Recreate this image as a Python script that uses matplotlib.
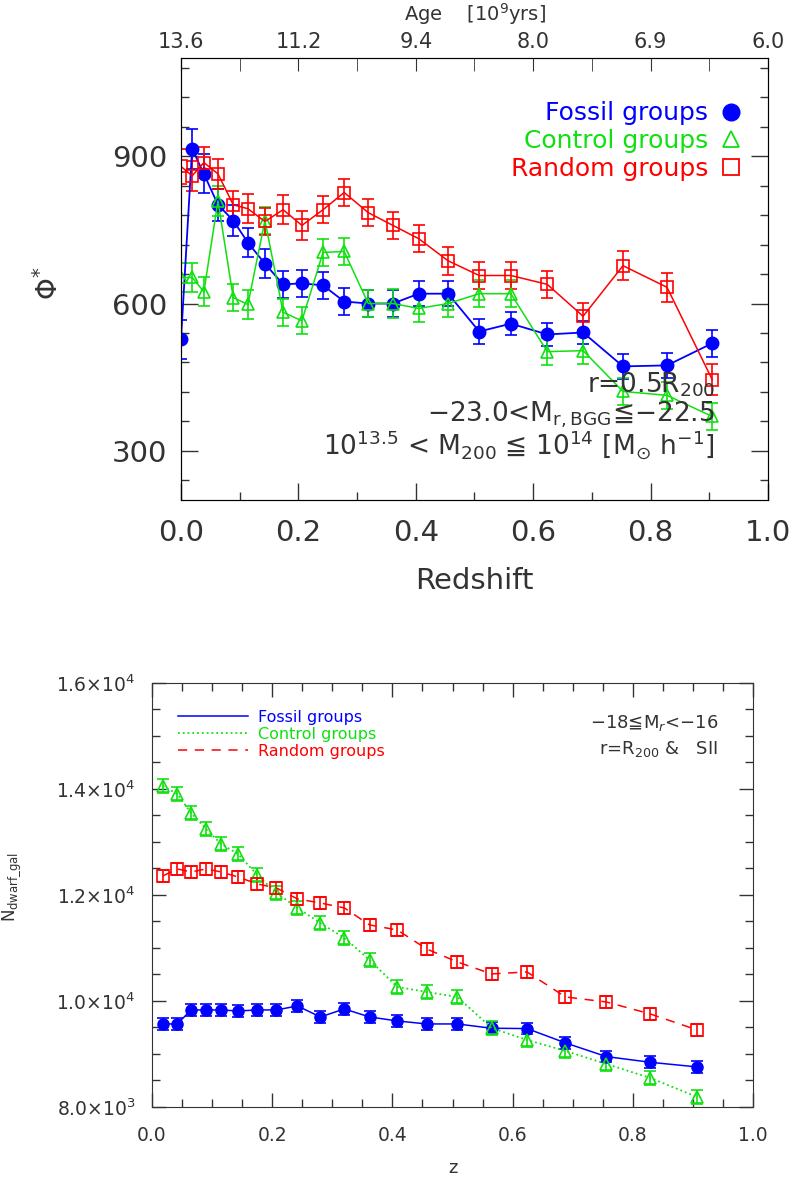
import matplotlib.pyplot as plt
from matplotlib.lines import Line2D
from matplotlib.ticker import MultipleLocator

BLUE = '#0000ff'
GREEN = '#10e010'
RED = '#ff0000'
INK = '#333333'

# ---- top panel: phi* vs redshift ----
z_top = [0.0, 0.019, 0.039, 0.063, 0.089, 0.114, 0.143, 0.174, 0.206, 0.242, 0.278,
         0.319, 0.361, 0.405, 0.455, 0.508, 0.562, 0.624, 0.685, 0.753, 0.828, 0.905]

phi_fossil = [527, 915, 864, 801, 769, 724, 681, 639, 641, 637, 604,
              600, 600, 620, 620, 543, 559, 537, 541, 472, 474, 519]
err_fossil = [40, 41, 40, 32, 32, 30, 29, 28, 28, 27, 28,
              28, 28, 26, 26, 25, 24, 24, 24, 25, 26, 27]

phi_control = [653, 653, 624, 809, 612, 598, 769, 582, 565, 704, 706,
               600, 600, 590, 600, 620, 620, 502, 504, 421, 413, 370]
err_control = [29, 29, 29, 31, 28, 29, 28, 28, 28, 27, 27,
               27, 29, 27, 28, 27, 27, 27, 27, 27, 27, 27]

phi_random = [879, 860, 887, 864, 801, 793, 767, 791, 759, 791, 826,
              785, 759, 732, 687, 657, 657, 639, 574, 677, 633, 445]
err_random = [35, 31, 32, 30, 29, 29, 28, 29, 29, 27, 28,
              28, 28, 28, 28, 28, 28, 28, 27, 29, 29, 31]

age_ticks = [0.0, 0.2, 0.4, 0.6, 0.8, 1.0]
age_labels = ['13.6', '11.2', '9.4', '8.0', '6.9', '6.0']

# ---- bottom panel: dwarf galaxy counts vs z ----
z_bot = [0.018, 0.042, 0.065, 0.09, 0.115, 0.143, 0.175, 0.207, 0.242, 0.28, 0.32,
         0.362, 0.408, 0.457, 0.508, 0.565, 0.624, 0.688, 0.756, 0.829, 0.907]

n_fossil = [9566, 9566, 9830, 9830, 9830, 9811, 9830, 9830, 9906, 9698, 9849,
            9698, 9623, 9566, 9566, 9485, 9479, 9208, 8950, 8843, 8755]
n_control = [14057, 13906, 13547, 13245, 12962, 12774, 12378, 12038, 11755, 11472, 11189,
             10774, 10264, 10170, 10075, 9490, 9264, 9057, 8811, 8547, 8189]
n_random = [12359, 12491, 12434, 12491, 12434, 12340, 12208, 12132, 11925, 11849, 11755,
            11434, 11340, 10981, 10736, 10510, 10547, 10075, 9981, 9755, 9453]
nerr_fossil = 110
nerr_control = 130
nerr_random = 110

plt.rcParams['font.family'] = ['DejaVu Sans']
plt.rcParams['mathtext.fontset'] = 'dejavusans'

fig = plt.figure(figsize=(7.98, 11.82), dpi=100)

# ================= top panel =================
ax = fig.add_axes([0.2268, 0.577, 0.7356, 0.374])

ax.errorbar(z_top, phi_fossil, yerr=err_fossil, color=BLUE, lw=1.3, marker='o', ms=9,
            mfc=BLUE, mec=BLUE, ecolor=BLUE, elinewidth=1.2, capsize=4.5, capthick=1.2)
ax.errorbar(z_top, phi_control, yerr=err_control, color=GREEN, lw=1.1, marker='^', ms=9,
            mfc='none', mec=GREEN, mew=1.2, ecolor=GREEN, elinewidth=1.2, capsize=4.5,
            capthick=1.2)
ax.errorbar(z_top, phi_random, yerr=err_random, color=RED, lw=1.1, marker='s', ms=8.5,
            mfc='none', mec=RED, mew=1.2, ecolor=RED, elinewidth=1.2, capsize=4.5,
            capthick=1.2)

ax.set_xlim(0, 1)
ax.set_ylim(200, 1100)
ax.set_yticks([300, 600, 900])
ax.yaxis.set_minor_locator(MultipleLocator(60))
ax.xaxis.set_major_locator(MultipleLocator(0.2))
ax.xaxis.set_minor_locator(MultipleLocator(0.1))
ax.tick_params(which='both', direction='in', right=True, top=False, colors=INK,
               labelsize=21, width=1)
ax.tick_params(which='major', length=12)
ax.tick_params(which='minor', length=6)
ax.tick_params(axis='y', pad=10)
ax.tick_params(axis='x', pad=14)
for s in ax.spines.values():
    s.set_color(INK)
ax.set_xlabel('Redshift', fontsize=21, color=INK, labelpad=14)
ax.set_ylabel(r'$\Phi^{*}$', fontsize=20, color=INK)
ax.yaxis.set_label_coords(-0.2, 0.49)

top = ax.twiny()
top.set_xlim(0, 1)
top.set_xticks(age_ticks)
top.set_xticklabels(age_labels)
top.xaxis.set_minor_locator(MultipleLocator(0.1))
top.tick_params(which='both', direction='in', colors=INK, labelsize=15, pad=4)
top.tick_params(which='major', length=9)
top.tick_params(which='minor', length=9)
top.set_xlabel(r'Age    [10$^9$yrs]', fontsize=14, color=INK)
top.xaxis.set_label_coords(0.5, 1.085)

handles = [Line2D([], [], ls='none', marker='o', ms=12, mfc=BLUE, mec=BLUE),
           Line2D([], [], ls='none', marker='^', ms=12, mfc='none', mec=GREEN, mew=1.3),
           Line2D([], [], ls='none', marker='s', ms=11, mfc='none', mec=RED, mew=1.3)]
leg = ax.legend(handles, ['Fossil groups', 'Control groups', 'Random groups'],
                loc='upper right', bbox_to_anchor=(0.975, 0.93), frameon=False,
                markerfirst=False, fontsize=18, handlelength=0.8, handletextpad=0.5,
                labelspacing=0.15, borderpad=0)
for t, c in zip(leg.get_texts(), [BLUE, GREEN, RED]):
    t.set_color(c)

ax.text(0.91, 0.26, r'r=0.5R$_{200}$', transform=ax.transAxes, ha='right', va='center',
        fontsize=19, color=INK)
ax.text(0.91, 0.192, r'$-$23.0<M$_{\rm r,BGG}$≦$-$22.5', transform=ax.transAxes, ha='right',
        va='center', fontsize=19, color=INK)
ax.text(0.91, 0.125, r'10$^{13.5}$ < M$_{200}$ ≦ 10$^{14}$ [M$_{\odot}$ h$^{-1}$]',
        transform=ax.transAxes, ha='right', va='center', fontsize=19, color=INK)

# ================= bottom panel =================
bx = fig.add_axes([0.1905, 0.0635, 0.7531, 0.3587])

bx.errorbar(z_bot, n_fossil, yerr=nerr_fossil, color=BLUE, ls='-', lw=1.1, marker='o', ms=8,
            mfc=BLUE, mec=BLUE, ecolor=BLUE, elinewidth=1.2, capsize=4, capthick=1.2)
bx.errorbar(z_bot, n_control, yerr=nerr_control, color=GREEN, ls=':', lw=1.3, marker='^', ms=9,
            mfc='none', mec=GREEN, mew=1.2, ecolor=GREEN, elinewidth=1.2, capsize=4,
            capthick=1.2)
bx.errorbar(z_bot, n_random, yerr=nerr_random, color=RED, ls=(0, (6, 5)), lw=1.1, marker='s',
            ms=9, mfc='none', mec=RED, mew=1.2, ecolor=RED, elinewidth=1.2, capsize=4,
            capthick=1.2)

bx.set_xlim(0, 1)
bx.set_ylim(8000, 16000)
yt = [8000, 10000, 12000, 14000, 16000]
bx.set_yticks(yt)
bx.set_yticklabels([r'8.0$\times$10$^3$', r'1.0$\times$10$^4$', r'1.2$\times$10$^4$',
                    r'1.4$\times$10$^4$', r'1.6$\times$10$^4$'])
bx.yaxis.set_minor_locator(MultipleLocator(500))
bx.xaxis.set_major_locator(MultipleLocator(0.2))
bx.xaxis.set_minor_locator(MultipleLocator(0.05))
bx.tick_params(which='both', direction='in', top=True, right=True, colors=INK,
               labelsize=13.5, width=1)
bx.tick_params(which='major', length=10)
bx.tick_params(which='minor', length=6)
bx.tick_params(axis='y', pad=12)
bx.tick_params(axis='x', pad=14)
for s in bx.spines.values():
    s.set_color(INK)
bx.set_xlabel('z', fontsize=13, color=INK, labelpad=10)
bx.set_ylabel(r'N$_{\rm dwarf\_gal}$', fontsize=12, color=INK)
bx.yaxis.set_label_coords(-0.215, 0.52)

line_handles = [Line2D([], [], color=BLUE, ls='-', lw=1.1),
                Line2D([], [], color=GREEN, ls=':', lw=1.3),
                Line2D([], [], color=RED, ls=(0, (6, 5)), lw=1.1)]
leg2 = bx.legend(line_handles, ['Fossil groups', 'Control groups', 'Random groups'],
                 loc='upper left', bbox_to_anchor=(0.03, 0.955), frameon=False,
                 fontsize=11.5, handlelength=4.4, handletextpad=0.6, labelspacing=0.12,
                 borderpad=0)
for t, c in zip(leg2.get_texts(), [BLUE, GREEN, RED]):
    t.set_color(c)

bx.text(0.942, 0.905, r'$-$18≦M$_{r}$<$-$16', transform=bx.transAxes, ha='right',
        va='center', fontsize=13, color=INK)
bx.text(0.942, 0.845, r'r=R$_{200}$ &   SII', transform=bx.transAxes, ha='right',
        va='center', fontsize=13, color=INK)

fig.savefig('out.png', dpi=100)
